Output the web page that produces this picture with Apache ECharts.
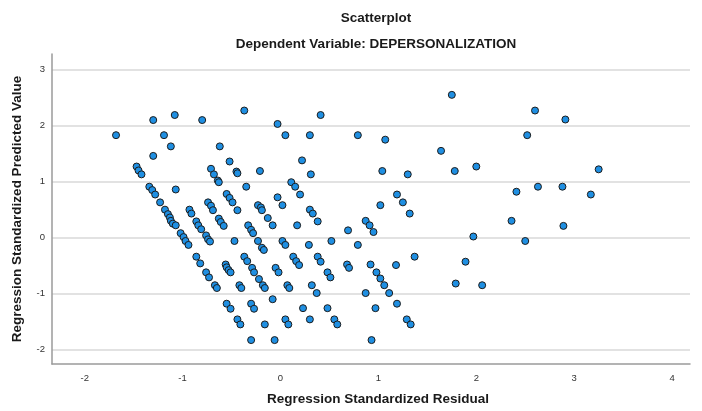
<!DOCTYPE html>
<html>
<head>
<meta charset="utf-8">
<style>html,body{margin:0;padding:0;background:#fff;}#chart{width:702px;height:411px;}</style>
<script src="https://cdn.jsdelivr.net/npm/echarts@6/dist/echarts.min.js"></script>
</head>
<body>
<div id="chart"></div>
<script>
// Regression standardized residual (x) and predicted value (y)
var residual = [
-1.68,-1.30,-1.08,-0.80,-0.37,-0.03,0.05,-1.19,-1.12,-1.30,-0.62,-0.52,-0.45,-0.44,-0.21,
-1.47,-1.45,-1.42,-0.71,-0.68,-0.64,-0.63,-1.34,-1.31,-1.28,-1.07,-0.35,-1.23,
-1.18,-1.15,-1.13,-1.12,-1.10,-1.07,-1.02,-0.93,-0.91,-0.86,-0.84,-0.81,-0.76,
-0.74,-0.71,-0.69,-0.63,-0.61,-0.58,-0.55,-0.52,-0.49,-0.44,-0.33,-0.30,-0.28,
-0.23,-0.20,-0.19,-0.13,-0.08,-0.03,0.02,0.11,
-0.99,-0.97,-0.94,-0.74,-0.72,-0.47,-0.23,-0.19,-0.17,0.02,0.05,-0.86,-0.82,
-0.76,-0.73,-0.67,-0.65,-0.56,-0.55,-0.53,-0.51,-0.42,-0.40,-0.37,-0.34,-0.29,-0.27,
-0.22,-0.18,-0.16,-0.05,-0.02,-0.08,-0.55,-0.51,-0.30,-0.27,-0.44,-0.41,-0.16,
0.05,0.08,-0.30,-0.06,
0.41,0.30,0.79,1.07,1.64,0.22,0.31,1.04,1.30,1.78,0.15,0.20,0.30,0.33,0.38,0.17,
0.69,0.87,0.91,0.95,1.02,1.19,1.25,1.32,
0.29,0.52,0.79,0.13,0.16,0.19,0.38,0.41,0.48,0.51,0.68,0.70,0.92,0.98,1.02,1.06,1.11,
1.18,1.37,1.79,0.07,0.09,0.32,0.37,0.87,0.23,0.48,0.97,1.19,0.30,0.55,0.58,1.29,1.33,0.93,
1.75,2.60,2.91,2.52,2.00,3.25,2.41,2.63,2.88,3.17,2.36,2.89,1.97,2.50,1.89,2.06
];
var predicted = [
1.83,2.10,2.19,2.10,2.27,2.03,1.83,1.83,1.63,1.46,1.63,1.36,1.18,1.15,1.19,
1.27,1.20,1.13,1.23,1.13,1.02,0.99,0.91,0.85,0.77,0.86,0.91,0.63,
0.50,0.42,0.36,0.30,0.25,0.22,0.08,0.50,0.43,0.29,0.22,0.15,0.04,
0.63,0.57,0.49,0.34,0.28,0.21,0.78,0.71,0.63,0.49,0.22,0.14,0.08,
0.58,0.54,0.49,0.35,0.22,0.72,0.58,0.99,
0.01,-0.06,-0.13,-0.03,-0.07,-0.06,-0.06,-0.18,-0.22,-0.06,-0.13,-0.34,-0.46,
-0.62,-0.71,-0.85,-0.90,-0.48,-0.53,-0.58,-0.62,-0.85,-0.90,-0.34,-0.42,-0.54,-0.62,
-0.74,-0.85,-0.90,-0.54,-0.62,-1.10,-1.18,-1.27,-1.18,-1.27,-1.46,-1.55,-1.55,
-1.46,-1.55,-1.83,-1.83,
2.19,1.83,1.83,1.75,1.55,1.38,1.13,1.19,1.13,1.19,0.91,0.77,0.50,0.43,0.29,0.22,
0.13,0.30,0.22,0.10,0.58,0.77,0.63,0.43,
-0.13,-0.06,-0.13,-0.34,-0.42,-0.49,-0.34,-0.43,-0.62,-0.71,-0.48,-0.54,-0.48,-0.62,-0.73,-0.85,-0.99,
-0.49,-0.34,-0.82,-0.85,-0.90,-0.85,-0.99,-0.99,-1.26,-1.26,-1.26,-1.18,-1.46,-1.46,-1.55,-1.46,-1.55,-1.83,
2.55,2.27,2.11,1.83,1.27,1.22,0.82,0.91,0.91,0.77,0.30,0.21,0.02,-0.06,-0.43,-0.85
];
var xTicks = [-2, -1, 0, 1, 2, 3, 4];
var yTicks = [-2, -1, 0, 1, 2, 3];

var points = residual.map(function (v, i) { return [v, predicted[i]]; });
var font = 'Liberation Sans, Arial, sans-serif';

var chart = echarts.init(document.getElementById('chart'), null, {renderer: 'canvas'});
chart.setOption({
  animation: false,
  backgroundColor: '#ffffff',
  title: [
    {text: 'Scatterplot', left: 371, top: 6, textAlign: 'center',
     textStyle: {fontFamily: font, fontSize: 13.5, fontWeight: 'bold', color: '#1a1a1a'}},
    {text: 'Dependent Variable: DEPERSONALIZATION', left: 371, top: 32, textAlign: 'center',
     textStyle: {fontFamily: font, fontSize: 13.5, fontWeight: 'bold', color: '#1a1a1a'}}
  ],
  grid: {left: 52, right: 12, top: 54, bottom: 40, containLabel: false},
  xAxis: {
    type: 'value', min: -2.334, max: 4.183,
    name: 'Regression Standardized Residual', nameLocation: 'middle', nameGap: 28,
    nameTextStyle: {fontFamily: font, fontSize: 13.5, fontWeight: 'bold', color: '#1a1a1a', padding: [0, 0, 0, 14]},
    axisLine: {show: true, onZero: false, lineStyle: {color: '#9a9a9a', width: 1.5}},
    axisTick: {show: false, customValues: xTicks},
    axisLabel: {customValues: xTicks, fontFamily: font, fontSize: 9.5, color: '#333', margin: 9},
    splitLine: {show: false}
  },
  yAxis: {
    type: 'value', min: -2.257, max: 3.28,
    name: 'Regression Standardized Predicted Value', nameLocation: 'middle', nameGap: 28,
    nameTextStyle: {fontFamily: font, fontSize: 13.5, fontWeight: 'bold', color: '#1a1a1a'},
    axisLine: {show: true, onZero: false, lineStyle: {color: '#9a9a9a', width: 1.5}},
    axisTick: {show: false, customValues: yTicks},
    axisLabel: {customValues: yTicks, fontFamily: font, fontSize: 9.5, color: '#333', margin: 7},
    splitLine: {show: true, lineStyle: {color: '#d9d9d9', width: 1.5}}
  },
  series: [{
    type: 'scatter',
    data: points,
    symbol: 'circle',
    symbolSize: 7,
    itemStyle: {color: '#1f8fe2', borderColor: '#1c1c1c', borderWidth: 1, opacity: 1}
  }]
});
</script>
</body>
</html>
